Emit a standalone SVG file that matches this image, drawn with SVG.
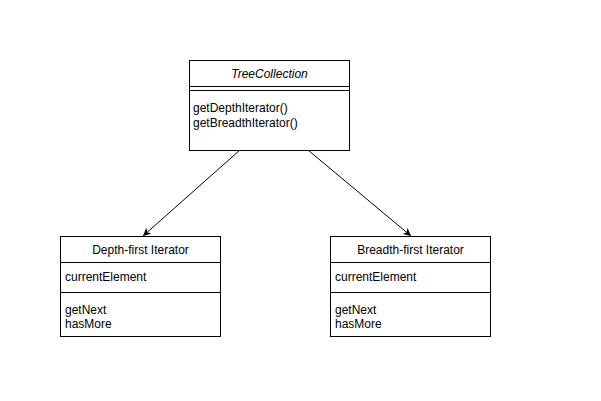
<svg xmlns="http://www.w3.org/2000/svg" width="601" height="401" viewBox="0 0 601 401">
<style>
.box{fill:#fff;stroke:#000;stroke-width:1}
.ln{stroke:#000;stroke-width:1;fill:none}
text{font-family:"Liberation Sans",Arial,sans-serif;font-size:12px;fill:#000}
.c{text-anchor:middle}
.edge{stroke:#000;stroke-width:1;fill:none;marker-end:url(#arr)}
</style>
<defs>
<marker id="arr" viewBox="0 0 10 10" refX="10" refY="5" markerWidth="8" markerHeight="8" markerUnits="userSpaceOnUse" orient="auto">
<path d="M0,0 L10,5 L0,10 L3,5 z" fill="#000"/>
</marker>
</defs>
<rect width="601" height="401" fill="#fff"/>
<g id="connectors">
<line class="edge" x1="240" y1="150" x2="143" y2="236"/>
<line class="edge" x1="308" y1="150" x2="411" y2="236"/>
</g>
<g id="treecollection">
<rect class="box" x="189.5" y="60.5" width="160" height="90"/>
<line class="ln" x1="189.5" y1="86.5" x2="349.5" y2="86.5"/>
<line class="ln" x1="189.5" y1="90.5" x2="349.5" y2="90.5"/>
<text class="c" x="269.5" y="78" font-style="italic">TreeCollection</text>
<text x="193" y="112">getDepthIterator()</text>
<text x="193" y="127">getBreadthIterator()</text>
</g>
<g id="depthfirst">
<rect class="box" x="60.5" y="236.5" width="160" height="100"/>
<line class="ln" x1="60.5" y1="262.5" x2="220.5" y2="262.5"/>
<line class="ln" x1="60.5" y1="292.5" x2="220.5" y2="292.5"/>
<text class="c" x="140.5" y="254">Depth-first Iterator</text>
<text x="65" y="281">currentElement</text>
<text x="65" y="314">getNext</text>
<text x="65" y="328">hasMore</text>
</g>
<g id="breadthfirst">
<rect class="box" x="330.5" y="236.5" width="160" height="100"/>
<line class="ln" x1="330.5" y1="262.5" x2="490.5" y2="262.5"/>
<line class="ln" x1="330.5" y1="292.5" x2="490.5" y2="292.5"/>
<text class="c" x="410.5" y="254">Breadth-first Iterator</text>
<text x="335" y="281">currentElement</text>
<text x="335" y="314">getNext</text>
<text x="335" y="328">hasMore</text>
</g>
</svg>
